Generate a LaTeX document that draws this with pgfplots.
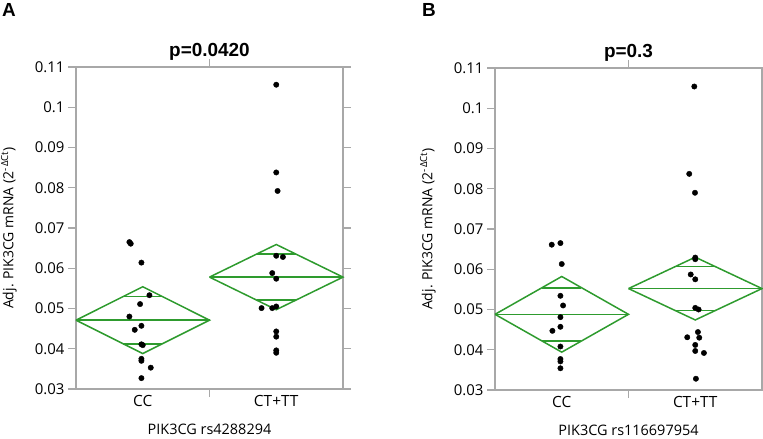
\documentclass[border=0pt]{standalone}
\usepackage{fontspec}
\setmainfont{Open Sans}
\newfontfamily\arialfont{Liberation Sans}
\usepackage{pgfplots}
\pgfplotsset{compat=1.18}
\definecolor{AxGray}{HTML}{A8A8A8}
\definecolor{DiaGreen}{HTML}{2E9B2E}

\pgfplotsset{
  jmpbox/.style={
    scale only axis, width=267bp, height=322bp,
    xmin=0, xmax=2, ymin=0.03, ymax=0.11,
    axis line style={AxGray, line width=1.3bp},
    tick style={AxGray, line width=1.1bp},
    tick align=outside, major tick length=8bp,
    xtick={1}, xticklabels={},
    extra x ticks={0.5,1.5}, extra x tick labels={CC,CT+TT},
    extra x tick style={major tick length=0pt,
      tick label style={yshift=-3bp, font=\fontsize{15.5}{17}\selectfont}},
    ytick={0.03,0.04,0.05,0.06,0.07,0.08,0.09,0.1,0.11},
    yticklabels={0.03,0.04,0.05,0.06,0.07,0.08,0.09,0.1,0.11},
    y tick label style={font=\fontsize{15}{17}\selectfont},
    every axis y label/.style={at={(axis description cs:-0.251,0.5)}, rotate=90, anchor=center,
      font=\fontsize{14}{16}\selectfont},
    every axis x label/.style={at={(axis description cs:0.5,0)}, anchor=center, yshift=-40bp,
      font=\fontsize{14.5}{16}\selectfont},
    every axis title/.style={at={(axis description cs:0.5,1)}, anchor=center, yshift=15bp,
      font=\arialfont\bfseries\fontsize{19}{21}\selectfont},
    ylabel={Adj. PIK3CG mRNA (2\textsuperscript{-\,ΔCt})},
    clip=false,
  },
  dia/.style={DiaGreen, line width=1.5bp},
  pts/.style={only marks, mark=*, mark size=2.7bp, black},
}

\begin{document}
\begin{tikzpicture}
\useasboundingbox (0,0) rectangle (763bp,439bp);

% panel A
\begin{axis}[jmpbox, at={(76bp,50bp)}, anchor=south west,
  title={p=0.0420}, xlabel={PIK3CG rs4288294}]
\addplot[dia] coordinates {(0,0.0471) (0.5,0.0554) (1,0.0471) (0.5,0.0388) (0,0.0471)};
\addplot[dia] coordinates {(0,0.0471) (1,0.0471)};
\addplot[dia] coordinates {(0.354,0.0530) (0.646,0.0530)};
\addplot[dia] coordinates {(0.354,0.0412) (0.646,0.0412)};
\addplot[dia] coordinates {(1,0.0578) (1.5,0.0659) (2,0.0578) (1.5,0.0497) (1,0.0578)};
\addplot[dia] coordinates {(1,0.0578) (2,0.0578)};
\addplot[dia] coordinates {(1.354,0.0635) (1.646,0.0635)};
\addplot[dia] coordinates {(1.354,0.0521) (1.646,0.0521)};
% CC
\addplot[pts] coordinates {
  (0.40,0.0665) (0.41,0.0661) (0.49,0.0614) (0.55,0.0533) (0.48,0.0511)
  (0.40,0.0480) (0.49,0.0457) (0.44,0.0447) (0.49,0.0411) (0.50,0.0409)
  (0.49,0.0375) (0.49,0.0370) (0.56,0.0353) (0.49,0.0327)};
% CT+TT
\addplot[pts] coordinates {
  (1.50,0.1056) (1.50,0.0838) (1.51,0.0792) (1.50,0.0631) (1.55,0.0628)
  (1.47,0.0588) (1.50,0.0574) (1.39,0.0501) (1.47,0.0501) (1.50,0.0505)
  (1.50,0.0443) (1.50,0.0430) (1.50,0.0396) (1.50,0.0390)};
\end{axis}

% panel B
\begin{axis}[jmpbox, at={(495bp,49bp)}, anchor=south west,
  title={p=0.3}, xlabel={PIK3CG rs116697954}]
\addplot[dia] coordinates {(0,0.0488) (0.5,0.0582) (1,0.0488) (0.5,0.0394) (0,0.0488)};
\addplot[dia] coordinates {(0,0.0488) (1,0.0488)};
\addplot[dia] coordinates {(0.354,0.0554) (0.646,0.0554)};
\addplot[dia] coordinates {(0.354,0.0422) (0.646,0.0422)};
\addplot[dia] coordinates {(1,0.0552) (1.5,0.0630) (2,0.0552) (1.5,0.0474) (1,0.0552)};
\addplot[dia] coordinates {(1,0.0552) (2,0.0552)};
\addplot[dia] coordinates {(1.354,0.0607) (1.646,0.0607)};
\addplot[dia] coordinates {(1.354,0.0497) (1.646,0.0497)};
% CC
\addplot[pts] coordinates {
  (0.425,0.0661) (0.49,0.0665) (0.50,0.0613) (0.49,0.0534) (0.51,0.0510)
  (0.49,0.0481) (0.49,0.0457) (0.43,0.0447) (0.49,0.0408) (0.49,0.0377)
  (0.49,0.0371) (0.49,0.0354)};
% CT+TT
\addplot[pts] coordinates {
  (1.493,0.1054) (1.455,0.0837) (1.498,0.0790) (1.50,0.0629) (1.50,0.0625)
  (1.466,0.0587) (1.50,0.0575) (1.50,0.0504) (1.525,0.0500) (1.52,0.0444)
  (1.53,0.0430) (1.44,0.0431) (1.50,0.0412) (1.50,0.0397) (1.565,0.0392)
  (1.505,0.0328)};
\end{axis}

\node[font=\arialfont\bfseries\fontsize{19}{21}\selectfont] at (9bp,429bp) {A};
\node[font=\arialfont\bfseries\fontsize{19}{21}\selectfont] at (429bp,429bp) {B};
\end{tikzpicture}
\end{document}
